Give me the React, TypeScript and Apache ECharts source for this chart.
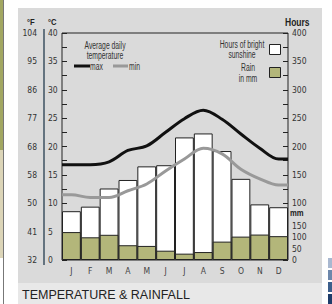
import React, { useEffect, useRef } from "react";
import * as echarts from "echarts";

const months = ["J", "F", "M", "A", "M", "J", "J", "A", "S", "O", "N", "D"];
const sunshineHours = [86, 94, 126, 141, 165, 167, 216, 223, 192, 143, 98, 93];
const rainMm = [123, 100, 111, 65, 62, 41, 28, 35, 81, 103, 112, 105];
const maxTemp = [16.8, 16.8, 17.3, 19.3, 20.1, 22.5, 24.9, 26.4, 24.8, 22.2, 19.7, 17.8];
const minTemp = [11.5, 11.0, 11.0, 12.2, 13.4, 15.7, 17.8, 19.7, 18.7, 16.0, 14.3, 13.2];
const fahrenheitLabels = ["32", "41", "50", "58", "68", "77", "86", "95", "104"];
const hoursLabelValues = [100, 150, 200, 250, 300, 350, 400];
const hoursTickValues = [100, 125, 150, 175, 200, 225, 250, 275, 300, 325, 350, 375, 400];
const rainLabelValues = [0, 50, 100, 150];
const rainTickValues = [0, 50, 100, 150, 200];

const FONT = '"Liberation Sans Narrow", "DejaVu Sans Condensed", "Liberation Sans", sans-serif';
const LEG_FONT = '"Liberation Sans", Arial, sans-serif';
const TXT = "#333";
const AXIS_FS = 8.5;

function linePoints(vals: number[]) {
  const pts: number[][] = vals.map((v, i) => [i + 0.5, v]);
  return [[0, vals[0]], ...pts, [months.length, vals[vals.length - 1]]];
}

export default function App() {
  const ref = useRef<HTMLDivElement>(null);
  useEffect(() => {
    document.body.style.margin = "0";
    const chart = echarts.init(ref.current!, null, { renderer: "svg" });
    const t = (x: number, y: number, text: string, extra: any = {}, sx = 0.68) => ({
      type: "text",
      x,
      y,
      scaleX: sx,
      silent: true,
      style: {
        text,
        fontFamily: LEG_FONT,
        fontSize: 10,
        fill: TXT,
        verticalAlign: "middle",
        align: "left",
        ...extra,
      },
    });
    chart.setOption({
      animation: false,
      backgroundColor: "#ffffff",
      textStyle: { fontFamily: FONT },
      grid: {
        left: 62,
        right: 44,
        top: 33,
        bottom: 44,
        show: true,
        borderColor: "#222",
        borderWidth: 1,
        backgroundColor: "transparent",
      },
      graphic: [
        { type: "rect", z: -10, shape: { x: 0, y: 0, width: 3, height: 150 }, style: { fill: "#a2a762" } },
        { type: "rect", z: -10, shape: { x: 0, y: 150, width: 3, height: 108 }, style: { fill: "#dcd5b8" } },
        { type: "line", z: -10, shape: { x1: 3.5, y1: 0, x2: 3.5, y2: 304 }, style: { stroke: "#777", lineWidth: 1 } },
        { type: "rect", z: -10, shape: { x: 18, y: 8, width: 304, height: 275 }, style: { fill: "#dadada" } },
        { type: "rect", z: -10, shape: { x: 18, y: 283, width: 304, height: 21 }, style: { fill: "#e8e8e8" } },
        { type: "rect", z: -10, shape: { x: 328, y: 258, width: 4, height: 10 }, style: { fill: "#a9b8d0" } },
        { type: "rect", z: -10, shape: { x: 328, y: 270, width: 4, height: 10 }, style: { fill: "#6d87ab" } },
        { type: "rect", z: -10, shape: { x: 328, y: 282, width: 4, height: 10 }, style: { fill: "#3d5f8c" } },
        { type: "rect", z: -10, shape: { x: 328, y: 294, width: 4, height: 10 }, style: { fill: "#1e3d6b" } },
        { type: "line", z: -5, shape: { x1: 44, y1: 29, x2: 44, y2: 265 }, style: { stroke: "#3d5060", lineWidth: 1.5 } },
        t(27, 22, "°F", { fontWeight: "bold", fill: "#222", fontSize: 9 }, 0.85),
        t(48, 22, "°C", { fontWeight: "bold", fill: "#222", fontSize: 9 }, 0.85),
        t(285, 23, "Hours", { fontWeight: "bold", fill: "#222", fontSize: 10 }, 0.85),
        t(290, 213, "mm", { fontWeight: "bold", fill: "#222", fontSize: 9 }, 0.85),
        t(105, 45, "Average daily", { align: "center" }),
        t(105, 55, "temperature", { align: "center" }),
        { type: "line", shape: { x1: 74, y1: 66, x2: 90, y2: 66 }, style: { stroke: "#111", lineWidth: 3 } },
        t(90, 66, "max"),
        { type: "line", shape: { x1: 113, y1: 66, x2: 128, y2: 66 }, style: { stroke: "#999", lineWidth: 3 } },
        t(129, 66, "min"),
        t(242, 44, "Hours of bright", { align: "center" }),
        t(242, 54, "sunshine", { align: "center" }),
        t(248, 67, "Rain", { align: "center" }),
        t(248, 78, "in mm", { align: "center" }),
        { type: "rect", shape: { x: 269.5, y: 44.5, width: 11, height: 10 }, style: { fill: "#fff", stroke: "#222", lineWidth: 1 } },
        { type: "rect", shape: { x: 269.5, y: 67.5, width: 11, height: 10 }, style: { fill: "#b3b67a", stroke: "#222", lineWidth: 1 } },
        t(22, 295, "TEMPERATURE & RAINFALL", { fontSize: 12.5, fill: "#222" }, 1),
      ],
      xAxis: [
        {
          type: "category",
          data: months,
          axisLine: { show: false },
          axisTick: { show: false },
          axisLabel: { color: "#444", fontSize: AXIS_FS, margin: 6, fontFamily: FONT },
          splitLine: { show: false },
        },
        { type: "value", min: 0, max: months.length, show: false },
      ],
      yAxis: [
        {
          type: "value",
          min: 0,
          max: 40,
          interval: 2.5,
          position: "left",
          axisLine: { show: false },
          axisTick: { show: true, inside: true, length: 5, lineStyle: { color: "#222" } },
          axisLabel: { show: false },
          splitLine: { show: false },
        },
        {
          type: "value",
          min: 0,
          max: 40,
          interval: 5,
          position: "left",
          offset: 18,
          axisLine: { show: false },
          axisTick: { show: false },
          axisLabel: { inside: true, margin: 4, color: TXT, fontSize: AXIS_FS, fontFamily: FONT },
          splitLine: { show: false },
        },
        {
          type: "value",
          min: 0,
          max: 40,
          interval: 5,
          position: "left",
          offset: 20,
          axisLine: { show: false },
          axisTick: { show: false },
          axisLabel: {
            margin: 5,
            color: TXT,
            fontSize: AXIS_FS,
            fontFamily: FONT,
            formatter: (v: number) => fahrenheitLabels[Math.round(v / 5)] ?? "",
          },
          splitLine: { show: false },
        },
        {
          type: "value",
          min: 0,
          max: 400,
          position: "right",
          axisLine: { show: false },
          axisTick: { show: true, inside: true, length: 5, customValues: hoursTickValues, lineStyle: { color: "#222" } },
          axisLabel: { customValues: hoursLabelValues, margin: 4, color: TXT, fontSize: AXIS_FS, fontFamily: FONT },
          splitLine: { show: false },
        },
        {
          type: "value",
          min: 0,
          max: 1000,
          position: "right",
          axisLine: { show: false },
          axisTick: { show: true, inside: true, length: 5, customValues: rainTickValues, lineStyle: { color: "#222" } },
          axisLabel: { customValues: rainLabelValues, margin: 4, color: TXT, fontSize: AXIS_FS, fontFamily: FONT },
          splitLine: { show: false },
        },
      ],
      series: [
        {
          type: "bar",
          name: "Sunshine",
          xAxisIndex: 0,
          yAxisIndex: 3,
          data: sunshineHours,
          barGap: "-100%",
          barCategoryGap: "0%",
          itemStyle: { color: "#ffffff", borderColor: "#222", borderWidth: 1 },
          z: 2,
        },
        {
          type: "bar",
          name: "Rain",
          xAxisIndex: 0,
          yAxisIndex: 4,
          data: rainMm,
          barGap: "-100%",
          barCategoryGap: "0%",
          itemStyle: { color: "#b3b67a", borderColor: "#222", borderWidth: 1 },
          z: 3,
        },
        {
          type: "line",
          name: "min",
          xAxisIndex: 1,
          yAxisIndex: 0,
          data: linePoints(minTemp),
          smooth: 0.35,
          symbol: "none",
          lineStyle: { color: "#999", width: 3 },
          z: 5,
        },
        {
          type: "line",
          name: "max",
          xAxisIndex: 1,
          yAxisIndex: 0,
          data: linePoints(maxTemp),
          smooth: 0.35,
          symbol: "none",
          lineStyle: { color: "#111", width: 3 },
          z: 6,
        },
      ],
    });
    return () => chart.dispose();
  }, []);
  return <div ref={ref} style={{ width: 332, height: 304 }} />;
}
